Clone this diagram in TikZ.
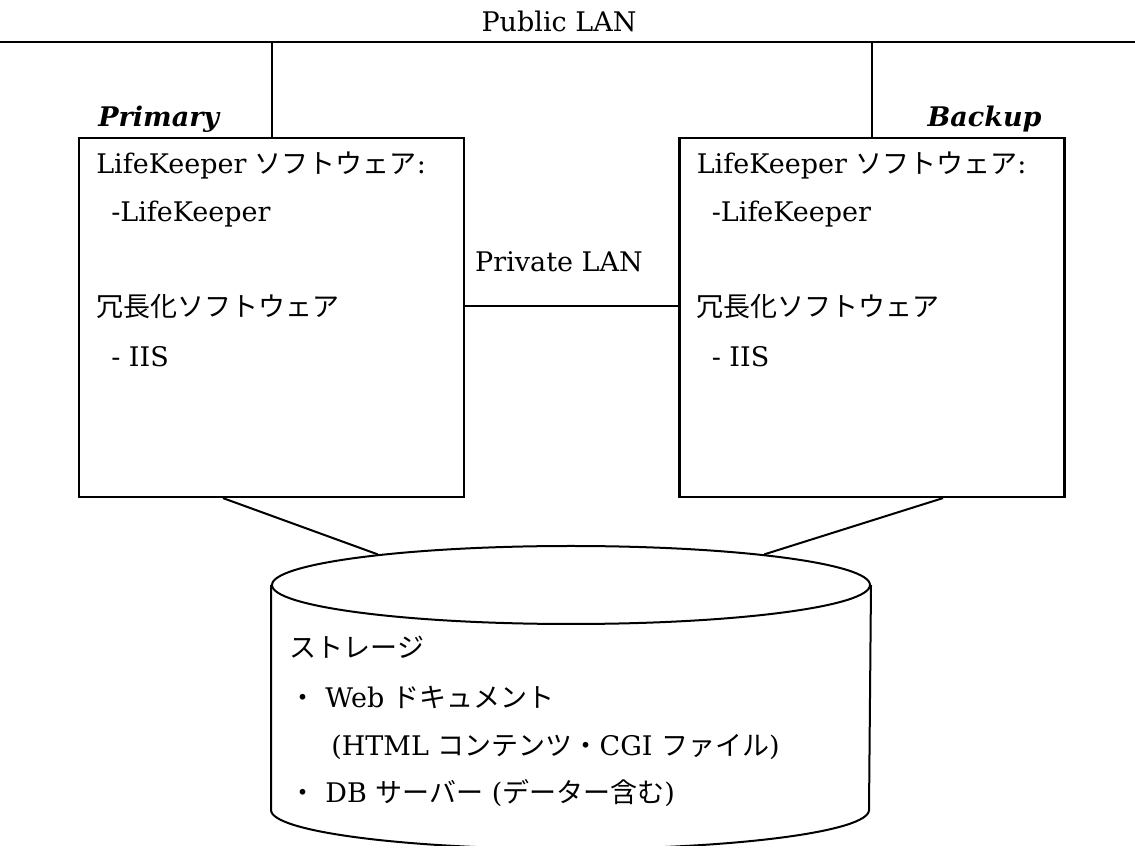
\documentclass[tikz,border=0pt]{standalone}
\usepackage{fontspec}
\setmainfont{DejaVu Serif}
\newfontfamily\jpfont{Noto Sans CJK JP}
\newcommand{\ja}[1]{{\jpfont #1}}
\usetikzlibrary{shapes.geometric}

\begin{document}
\begin{tikzpicture}[x=0.5pt, y=-0.5pt, font=\fontsize{13.5}{16}\selectfont,
	txt/.style={anchor=base west, inner sep=0pt},
	srvbox/.style={draw, line width=1.1pt, minimum width=192.5pt, minimum height=179.5pt},
	link/.style={line width=1pt}]
		\useasboundingbox (0,0) rectangle (1135,854);
		\coordinate (lanL) at (0,42);
		\coordinate (lanR) at (1135,42);
		\draw[line width=1.3pt] (lanL) -- (lanR);
		\node[anchor=base, inner sep=0pt] (pub) at (559,32) {Public LAN};
		\node[srvbox] (primary) at (271.5,317.5) {};
		\node[srvbox] (backup) at (872,317.5) {};
		\node[txt, font=\fontsize{13.5}{16}\selectfont\bfseries\itshape] (lblP) at (98,127) {Primary};
		\node[anchor=base east, inner sep=0pt, font=\fontsize{13.5}{16}\selectfont\bfseries\itshape] (lblB) at (1042,127) {Backup};
		\draw[link] (primary.north) -- (primary.north |- lanL);
		\draw[link] (backup.north) -- (backup.north |- lanL);
		\foreach \b in {primary,backup}{
			\node[txt] (\b-a) at ([xshift=9pt, yshift=-18.5pt]\b.north west) {LifeKeeper \ja{ソフトウェア}:};
			\node[txt] (\b-b) at ([xshift=16.5pt, yshift=-42.5pt]\b.north west) {-LifeKeeper};
			\node[txt] (\b-c) at ([xshift=9pt, yshift=-90pt]\b.north west) {\ja{冗長化ソフトウェア}};
			\node[txt] (\b-d) at ([xshift=16.5pt, yshift=-115pt]\b.north west) {- IIS};
		}
		\draw[link] ([yshift=5.75pt]primary.east) -- ([yshift=5.75pt]backup.west);
		\node[anchor=base, inner sep=0pt] (priv) at (559,272) {Private LAN};
		\node[draw, ellipse, link, inner sep=0pt, minimum width=299pt, minimum height=39pt] (disk) at (571,585) {};
		\begin{scope}
			\clip (0,0) rectangle (1135,845);
			\draw[link] (disk.west) -- ++(0,225) arc[start angle=180, end angle=360, x radius=149.5pt, y radius=19.5pt] -- (disk.east);
		\end{scope}
		\draw[link] ([xshift=-24.25pt]primary.south) -- (disk.171);
		\draw[link] ([xshift=35.5pt]backup.south) -- (disk.9);
		\node[txt] (st1) at (289.5,658) {\ja{ストレージ}};
		\node[txt] (st2) at (289.5,708) {\ja{・} Web \ja{ドキュメント}};
		\node[txt] (st3) at (331,755) {(HTML \ja{コンテンツ・}CGI \ja{ファイル})};
		\node[txt] (st4) at (289.5,803) {\ja{・} DB \ja{サーバー} (\ja{データー含む})};
\end{tikzpicture}
\end{document}
